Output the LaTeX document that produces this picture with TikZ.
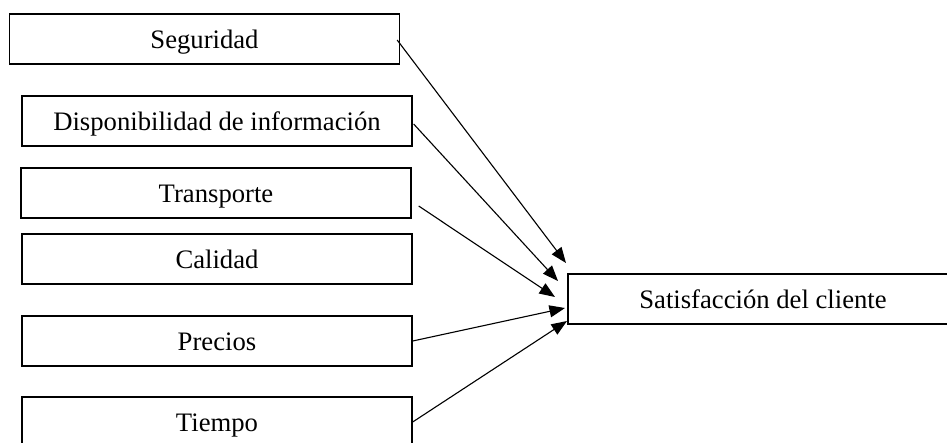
\documentclass[tikz,border=0pt]{standalone}
\usepackage{fontspec}
\setmainfont{Liberation Serif}
\usetikzlibrary{arrows.meta}

\begin{document}
\begin{tikzpicture}[x=0.45pt, y=-0.45pt,
        caja/.style={draw=black, line width=0.6pt, minimum width=175.5pt, minimum height=22.5pt, inner sep=0pt, text height=9pt, text depth=0.5pt, font=\fontsize{12}{14}\selectfont},
        flecha/.style={-{Triangle[length=7pt, width=5.4pt]}, line width=0.5pt}]
        \clip (0,0) rectangle (947,442);

        \node[caja] (seg) at (204.5,39) {Seguridad};
        \node[caja] (disp) at (217,121) {Disponibilidad de información};
        \node[caja] (trans) at (216,193) {Transporte};
        \node[caja] (cal) at (217,259) {Calidad};
        \node[caja] (prec) at (217,341) {Precios};
        \node[caja] (tiem) at (217,422) {Tiempo};

        \node[caja] (sat) at (763,299) {Satisfacción del cliente};

        \coordinate (pseg) at (566,263);
        \coordinate (pdisp) at (558,281);
        \coordinate (ptrans) at (555,297);
        \coordinate (pprec) at (565,308);
        \coordinate (ptiem) at (567,321);

        \draw[flecha] ([shift={(-3,1)}]seg.east) -- (pseg);
        \draw[flecha] ([shift={(1,3)}]disp.east) -- (pdisp);
        \draw[flecha] ([shift={(7,13)}]trans.east) -- (ptrans);
        \draw[flecha] (prec.east) -- (pprec);
        \draw[flecha] (tiem.east) -- (ptiem);
    \end{tikzpicture}
\end{document}
